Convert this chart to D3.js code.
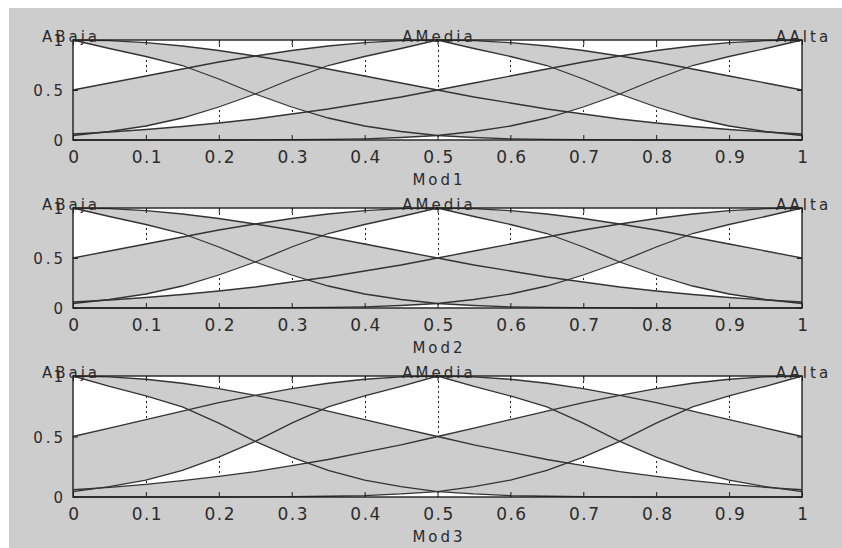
<!DOCTYPE html>
<html>
<head>
<meta charset="utf-8">
<style>
  body { margin: 0; background: #ffffff; }
  svg text { font-family: 'DejaVu Sans', sans-serif; fill: #2b2b2b; }
</style>
</head>
<body>
<svg width="842" height="548"></svg>
<script src="https://d3js.org/d3.v7.min.js"></script>
<script>
var xs = [0, 0.05, 0.1, 0.15, 0.2, 0.25, 0.3, 0.35, 0.4, 0.45, 0.5,
          0.55, 0.6, 0.65, 0.7, 0.75, 0.8, 0.85, 0.9, 0.95, 1];

var aBajaUpper  = [1.00, 0.993, 0.973, 0.94, 0.895, 0.84, 0.78, 0.71, 0.64, 0.57, 0.50,
                   0.43, 0.37, 0.31, 0.26, 0.21, 0.17, 0.135, 0.105, 0.08, 0.06];
var aBajaLower  = [1.00, 0.915, 0.835, 0.745, 0.61, 0.46, 0.33, 0.22, 0.14, 0.085, 0.045,
                   0.025, 0.012, 0.006, 0.003, 0.001, 0, 0, 0, 0, 0];
var aMediaUpper = [0.50, 0.57, 0.64, 0.71, 0.78, 0.84, 0.895, 0.94, 0.973, 0.993, 1.00,
                   0.993, 0.973, 0.94, 0.895, 0.84, 0.78, 0.71, 0.64, 0.57, 0.50];
var aMediaLower = [0.045, 0.085, 0.14, 0.22, 0.33, 0.46, 0.61, 0.745, 0.835, 0.915, 1.00,
                   0.915, 0.835, 0.745, 0.61, 0.46, 0.33, 0.22, 0.14, 0.085, 0.045];
var aAltaUpper  = [0.06, 0.08, 0.105, 0.135, 0.17, 0.21, 0.26, 0.31, 0.37, 0.43, 0.50,
                   0.57, 0.64, 0.71, 0.78, 0.84, 0.895, 0.94, 0.973, 0.993, 1.00];
var aAltaLower  = [0, 0, 0, 0, 0, 0.001, 0.003, 0.006, 0.012, 0.025, 0.045,
                   0.085, 0.14, 0.22, 0.33, 0.46, 0.61, 0.745, 0.835, 0.915, 1.00];

var setNames = ["ABaja", "AMedia", "AAlta"];
var setCenters = [0, 0.5, 1];
var panelLabels = ["Mod1", "Mod2", "Mod3"];

var xTicks = [0, 0.1, 0.2, 0.3, 0.4, 0.5, 0.6, 0.7, 0.8, 0.9, 1];
var xTickLabels = ["0", "0.1", "0.2", "0.3", "0.4", "0.5", "0.6", "0.7", "0.8", "0.9", "1"];
var yTicks = [0, 0.5, 1];
var yTickLabels = ["0", "0.5", "1"];

var sets = [
    { upper: aBajaUpper, lower: aBajaLower },
    { upper: aMediaUpper, lower: aMediaLower },
    { upper: aAltaUpper, lower: aAltaLower }
];

// layout of the three stacked axes
var panels = [
    { top: 40, bottom: 140 },
    { top: 208, bottom: 308 },
    { top: 376, bottom: 497 }
];
var left = 73, right = 802;
var figGray = "#cdcdcd", lineColor = "#333333";

var svg = d3.select("svg");

// figure background
svg.append("rect")
    .attr("x", 9).attr("y", 8)
    .attr("width", 842 - 9).attr("height", 548 - 8)
    .attr("fill", figGray);

panels.forEach(function(p, i) {
    var x = d3.scaleLinear().domain([0, 1]).range([left, right]);
    var y = d3.scaleLinear().domain([0, 1]).range([p.bottom, p.top]);
    var g = svg.append("g");

    // axes face
    g.append("rect")
        .attr("x", x(0)).attr("y", y(1))
        .attr("width", x(1) - x(0)).attr("height", y(0) - y(1))
        .attr("fill", "#ffffff");

    // dotted x grid (only shows through the white parts)
    g.append("g").selectAll("line")
        .data(xTicks.slice(1, -1))
        .enter().append("line")
        .attr("x1", function(d) { return Math.round(x(d)) + 0.5; })
        .attr("x2", function(d) { return Math.round(x(d)) + 0.5; })
        .attr("y1", y(1)).attr("y2", y(0))
        .attr("stroke", "#222")
        .attr("stroke-width", 1)
        .attr("stroke-dasharray", "2,3");

    // footprints of uncertainty
    var area = d3.area()
        .x(function(d) { return x(d.x); })
        .y0(function(d) { return y(d.lo); })
        .y1(function(d) { return y(d.up); });
    var line = d3.line()
        .x(function(d) { return x(d.x); })
        .y(function(d) { return y(d.v); });

    sets.forEach(function(s) {
        var pts = xs.map(function(v, k) { return { x: v, up: s.upper[k], lo: s.lower[k] }; });
        g.append("path").datum(pts)
            .attr("d", area)
            .attr("fill", figGray);
    });

    sets.forEach(function(s) {
        [s.upper, s.lower].forEach(function(arr) {
            var pts = xs.map(function(v, k) { return { x: v, v: arr[k] }; });
            g.append("path").datum(pts)
                .attr("d", line)
                .attr("fill", "none")
                .attr("stroke", lineColor)
                .attr("stroke-width", 1.3);
        });
    });

    // box
    g.append("rect")
        .attr("x", x(0)).attr("y", y(1))
        .attr("width", x(1) - x(0)).attr("height", y(0) - y(1))
        .attr("fill", "none")
        .attr("stroke", "#1e1e1e")
        .attr("stroke-width", 1.4);

    // axes with inward ticks
    var xb = g.append("g")
        .attr("transform", "translate(0," + y(0) + ")")
        .call(d3.axisBottom(x).tickValues(xTicks).tickSize(-5).tickSizeOuter(0)
            .tickFormat(function(d, k) { return xTickLabels[k]; }));
    var xt = g.append("g")
        .attr("transform", "translate(0," + y(1) + ")")
        .call(d3.axisTop(x).tickValues(xTicks).tickSize(-5).tickSizeOuter(0).tickFormat(""));
    var yl = g.append("g")
        .attr("transform", "translate(" + x(0) + ",0)")
        .call(d3.axisLeft(y).tickValues(yTicks).tickSize(-5).tickSizeOuter(0)
            .tickFormat(function(d, k) { return yTickLabels[k]; }));
    var yr = g.append("g")
        .attr("transform", "translate(" + x(1) + ",0)")
        .call(d3.axisRight(y).tickValues(yTicks).tickSize(-5).tickSizeOuter(0).tickFormat(""));

    [xb, xt, yl, yr].forEach(function(a) {
        a.select(".domain").remove();
        a.selectAll(".tick line").attr("stroke", "#1e1e1e");
    });

    xb.selectAll(".tick text")
        .attr("y", 23).attr("dy", null)
        .attr("dx", 1)
        .style("font-size", "17px")
        .style("letter-spacing", "1.5px")
        .attr("fill", "#2b2b2b");
    yl.selectAll(".tick text")
        .attr("x", -7).attr("dy", "0.38em")
        .style("font-size", "15px")
        .style("letter-spacing", "3px")
        .attr("fill", "#2b2b2b");

    // set names on top
    g.selectAll(".setname")
        .data(setNames)
        .enter().append("text")
        .attr("x", function(d, k) { return x(setCenters[k]) + (k === 0 ? -2 : 1.5); })
        .attr("y", y(1) + 1.5)
        .attr("text-anchor", "middle")
        .style("font-size", "15px")
        .style("letter-spacing", "3px")
        .text(function(d) { return d; });

    // x label
    g.append("text")
        .attr("x", x(0.5) + 1.5)
        .attr("y", y(0) + 44.5)
        .attr("text-anchor", "middle")
        .style("font-size", "15px")
        .style("letter-spacing", "3px")
        .text(panelLabels[i]);
});
</script>
</body>
</html>
